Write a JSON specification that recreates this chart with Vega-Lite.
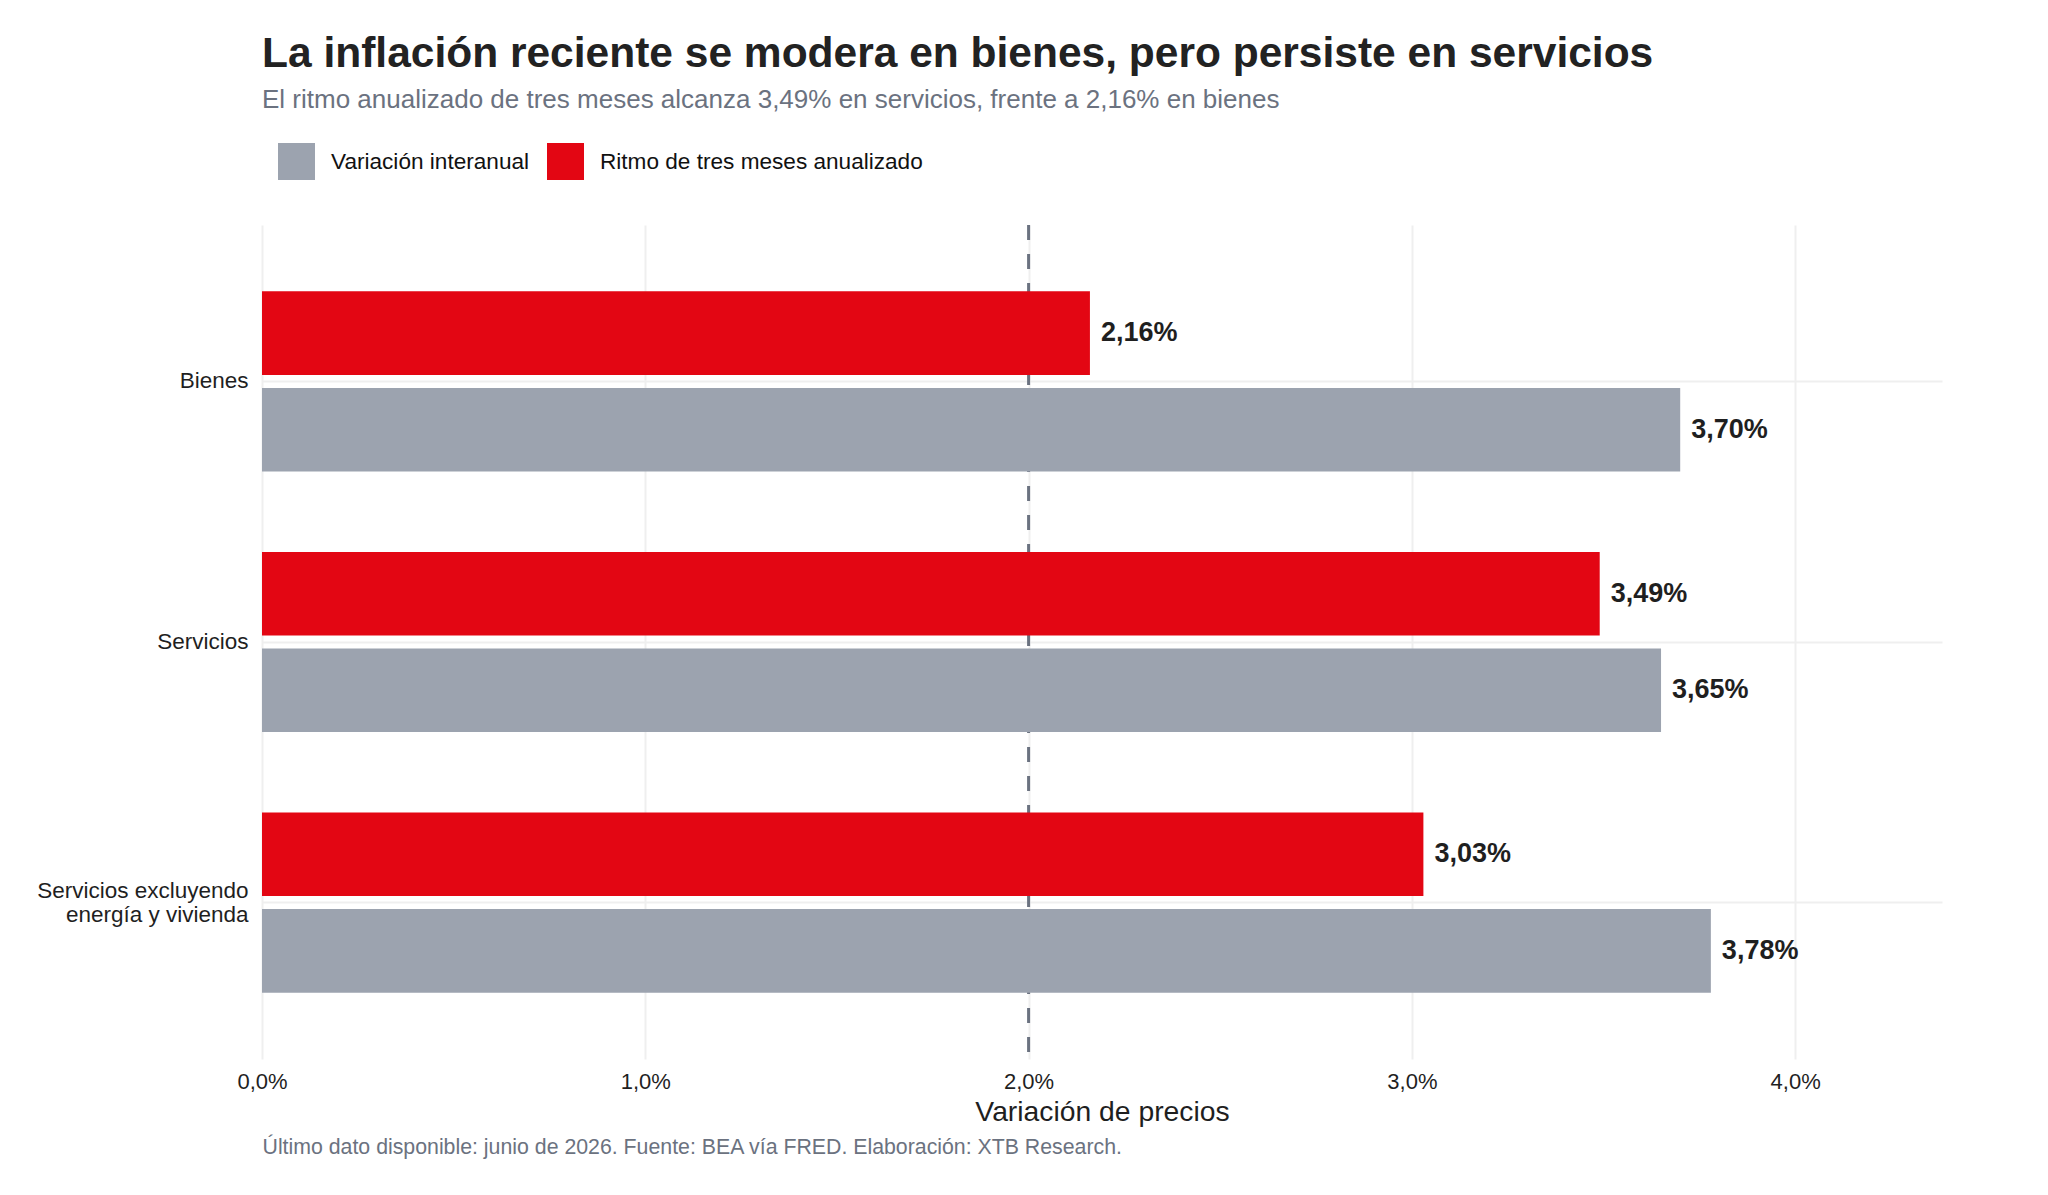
{
  "$schema": "https://vega.github.io/schema/vega-lite/v6.json",
  "width": 1680,
  "height": 834,
  "autosize": {"type": "none"},
  "padding": {"left": 262, "top": 225, "right": 106, "bottom": 136},
  "background": "white",
  "title": {
    "text": "La inflación reciente se modera en bienes, pero persiste en servicios",
    "subtitle": "El ritmo anualizado de tres meses alcanza 3,49% en servicios, frente a 2,16% en bienes",
    "anchor": "start",
    "frame": "group",
    "fontSize": 42.5,
    "fontWeight": "bold",
    "color": "#222222",
    "subtitleFontSize": 26,
    "subtitleColor": "#6b7280",
    "subtitlePadding": 12,
    "offset": 30,
    "limit": 0
  },
  "data": {
    "values": [
      {"categoria": "Bienes", "serie": "Ritmo de tres meses anualizado", "valor": 0.0216},
      {"categoria": "Bienes", "serie": "Variación interanual", "valor": 0.037},
      {"categoria": "Servicios", "serie": "Ritmo de tres meses anualizado", "valor": 0.0349},
      {"categoria": "Servicios", "serie": "Variación interanual", "valor": 0.0365},
      {"categoria": "Servicios excluyendo energía y vivienda", "serie": "Ritmo de tres meses anualizado", "valor": 0.0303},
      {"categoria": "Servicios excluyendo energía y vivienda", "serie": "Variación interanual", "valor": 0.0378}
    ]
  },
  "layer": [
    {
      "data": {"values": [{"ref": 0.02}]},
      "mark": {"type": "rule", "color": "#6b7280", "strokeWidth": 3, "strokeDash": [15, 14]},
      "encoding": {
        "x": {
          "field": "ref",
          "type": "quantitative",
          "scale": {"domain": [0, 0.04383], "nice": false},
          "axis": {
            "orient": "bottom",
            "title": "Último dato disponible: junio de 2026. Fuente: BEA vía FRED. Elaboración: XTB Research.",
            "titleAnchor": "start",
            "titleAlign": "left",
            "titleFontSize": 21.3,
            "titleFontWeight": "normal",
            "titleColor": "#6b7280",
            "titlePadding": 77,
            "titleLimit": 0,
            "labels": false,
            "ticks": false,
            "domain": false,
            "grid": false
          }
        }
      }
    },
    {
      "mark": {"type": "bar"},
      "encoding": {
        "x": {
          "field": "valor",
          "type": "quantitative",
          "scale": {"domain": [0, 0.04383], "nice": false},
          "axis": {
            "orient": "bottom",
            "values": [0, 0.01, 0.02, 0.03, 0.04],
            "format": ".1%",
            "labelFlush": false,
            "grid": true,
            "gridColor": "#efefef",
            "gridWidth": 2,
            "domain": false,
            "ticks": false,
            "labelFontSize": 22,
            "labelColor": "#1f1f1f",
            "labelPadding": 12,
            "title": "Variación de precios",
            "titleFontSize": 28.3,
            "titleFontWeight": "normal",
            "titleColor": "#1f1f1f",
            "titlePadding": 6
          }
        },
        "y": {
          "field": "categoria",
          "type": "nominal",
          "sort": ["Bienes", "Servicios", "Servicios excluyendo energía y vivienda"],
          "scale": {"paddingInner": 0.309, "paddingOuter": 0.2547},
          "axis": {
            "title": null,
            "domain": false,
            "ticks": false,
            "grid": true,
            "gridColor": "#efefef",
            "gridWidth": 2,
            "bandPosition": 0.5,
            "labelFontSize": 22.5,
            "labelColor": "#1f1f1f",
            "labelPadding": 14,
            "labelLimit": 0,
            "labelLineHeight": 24,
            "labelOffset": {
              "condition": {"test": "datum.value == 'Servicios excluyendo energía y vivienda'", "value": -12},
              "value": 0
            },
            "labelExpr": "datum.value == 'Servicios excluyendo energía y vivienda' ? ['Servicios excluyendo', 'energía y vivienda'] : datum.value"
          }
        },
        "yOffset": {
          "field": "serie",
          "type": "nominal",
          "sort": ["Ritmo de tres meses anualizado", "Variación interanual"],
          "scale": {"paddingInner": 0.1347, "paddingOuter": 0}
        },
        "color": {
          "field": "serie",
          "type": "nominal",
          "scale": {
            "domain": ["Variación interanual", "Ritmo de tres meses anualizado"],
            "range": ["#9ca3af", "#e30613"]
          },
          "legend": {
            "orient": "none",
            "direction": "horizontal",
            "legendX": 16,
            "legendY": -82,
            "title": null,
            "symbolType": "square",
            "symbolSize": 1369,
            "symbolStrokeWidth": 0,
            "symbolOpacity": 1,
            "labelFontSize": 22.6,
            "labelColor": "#111111",
            "labelLimit": 0,
            "labelOffset": 16,
            "columnPadding": 17
          }
        }
      }
    },
    {
      "mark": {"type": "text", "align": "left", "baseline": "middle", "dx": 11, "fontSize": 27, "fontWeight": "bold", "color": "#1f1f1f"},
      "encoding": {
        "x": {"field": "valor", "type": "quantitative", "scale": {"domain": [0, 0.04383], "nice": false}, "axis": null},
        "y": {
          "field": "categoria",
          "type": "nominal",
          "sort": ["Bienes", "Servicios", "Servicios excluyendo energía y vivienda"]
        },
        "yOffset": {
          "field": "serie",
          "type": "nominal",
          "sort": ["Ritmo de tres meses anualizado", "Variación interanual"]
        },
        "text": {"field": "valor", "type": "quantitative", "format": ".2%"}
      }
    }
  ],
  "resolve": {"axis": {"x": "independent"}},
  "config": {
    "font": "Liberation Sans",
    "view": {"stroke": null},
    "locale": {
      "number": {"decimal": ",", "thousands": ".", "grouping": [3], "currency": ["", " €"]}
    }
  }
}
